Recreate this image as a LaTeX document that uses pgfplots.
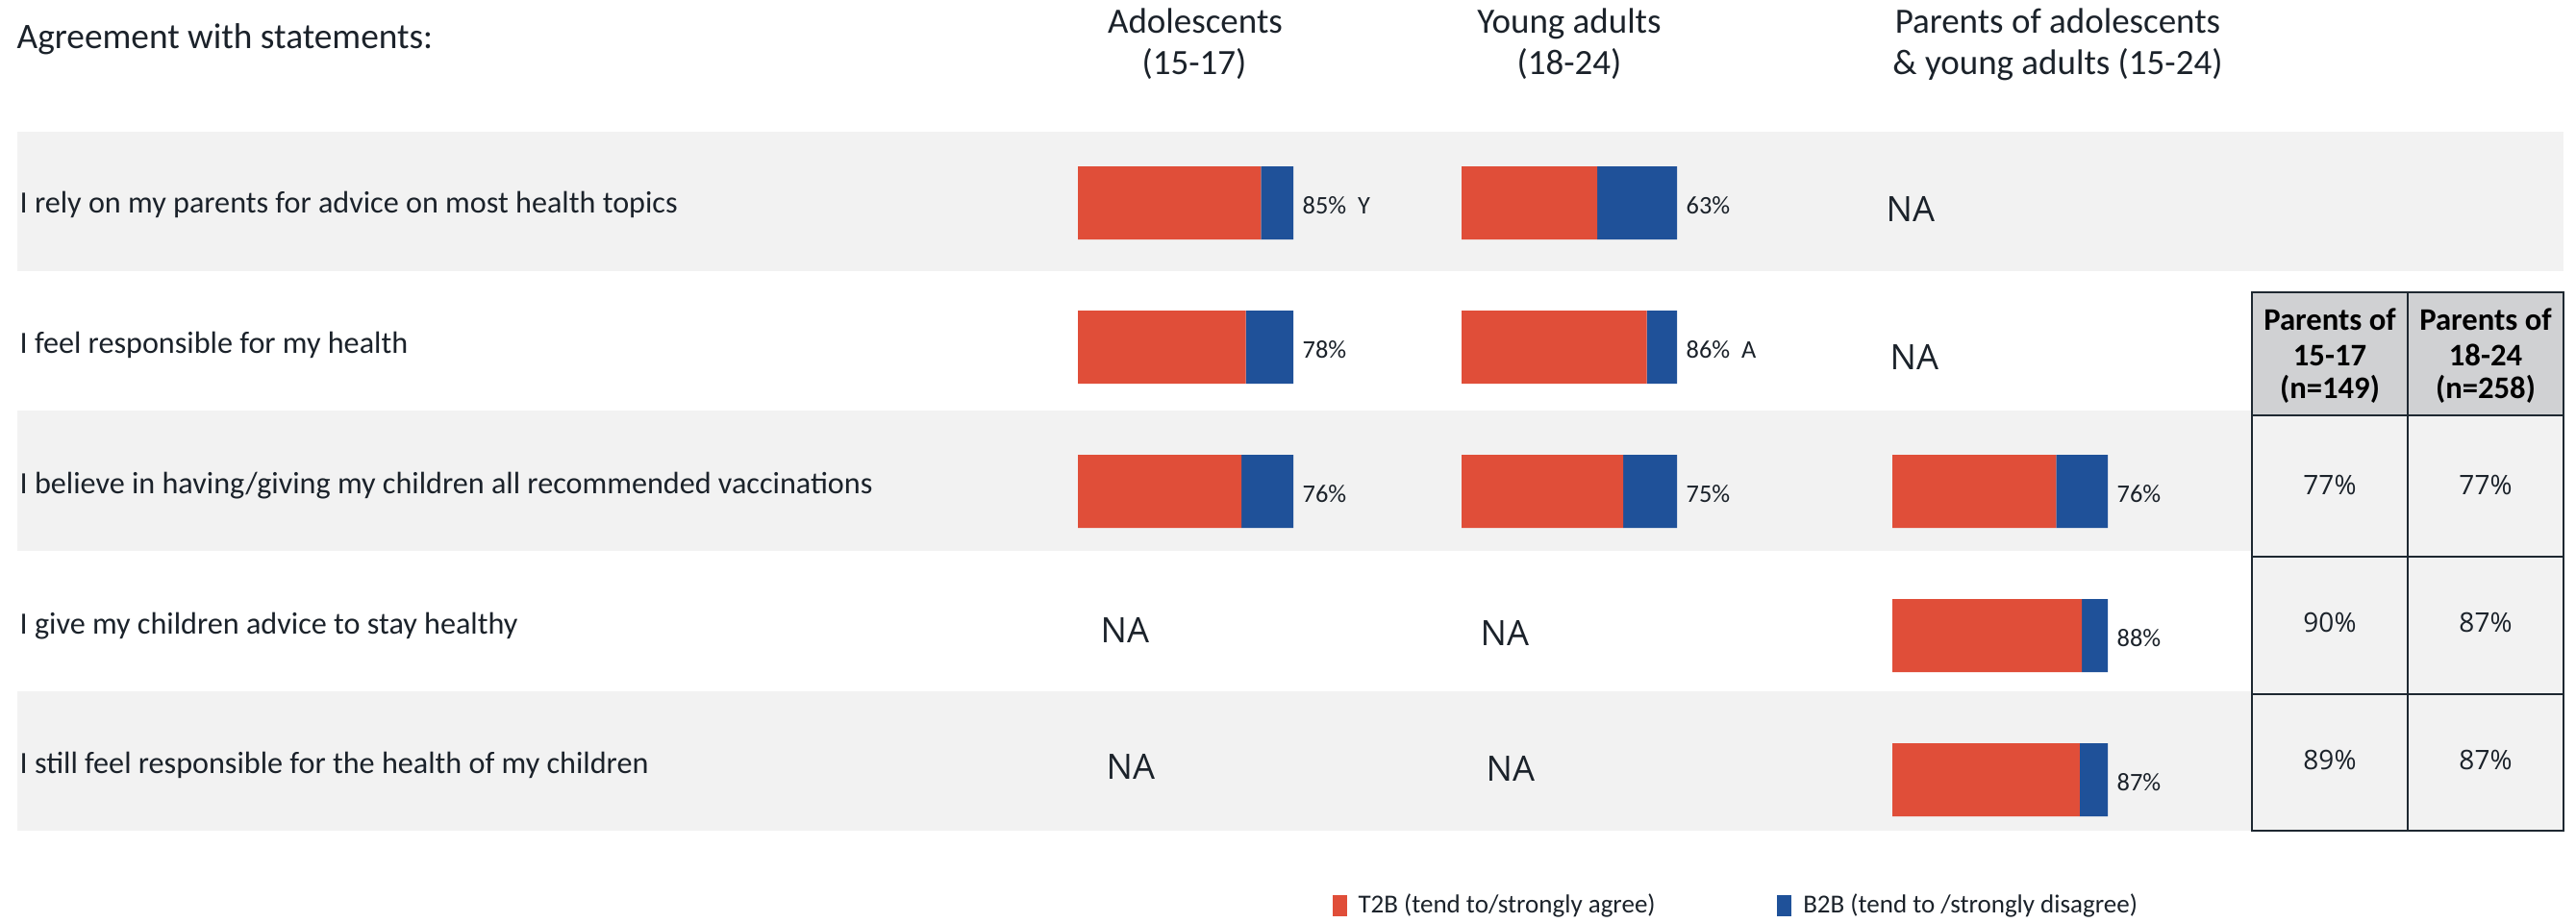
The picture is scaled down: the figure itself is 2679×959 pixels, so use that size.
\documentclass[border=0pt]{standalone}
\usepackage{pgfplots}
\pgfplotsset{compat=1.18}
\usepackage{fontspec}
\setmainfont{Carlito}
\newfontfamily\uifont{Open Sans}

\definecolor{t2b}{HTML}{E04E39}
\definecolor{b2b}{HTML}{1F5199}
\definecolor{band}{HTML}{F2F2F2}
\definecolor{headgray}{HTML}{D0D1D3}
\definecolor{ink}{HTML}{1B222A}
\definecolor{rule}{HTML}{1E2831}

% 1 layout unit = 0.3pt
\newcommand{\fs}[2]{\fontsize{#1}{#2}\selectfont}

\pgfplotsset{
  grpbar/.style={
    xbar stacked, scale only axis, hide axis, clip=false,
    width=67.2pt, height=225pt,
    xmin=0, xmax=100, ymin=0.5, ymax=5.5, y dir=reverse,
    bar width=22.8pt, anchor=north west,
  },
}
\tikzset{
  vallabel/.style={anchor=base west, inner sep=0pt, xshift=2.7pt, yshift=-3.3pt,
    font=\fs{7.9pt}{9pt}, text=ink},
}

\begin{document}
\begin{tikzpicture}
\begin{scope}[x=0.3pt, y=-0.3pt]
  \useasboundingbox (0,0) rectangle (2679,959);
  % alternating row bands
  \fill[band] (18,137) rectangle (2666,282);
  \fill[band] (18,427) rectangle (2342,573);
  \fill[band] (18,719) rectangle (2342,864);

  % title and column headers
  \node[anchor=base west, inner sep=0pt, text=ink, font=\fs{11.2pt}{13pt}] at (17,50) {Agreement with statements:};
  \begin{scope}[every node/.style={anchor=base, inner sep=0pt, text=ink, font=\fs{11.1pt}{13pt}}]
    \node at (1243,34) {Adolescents};
    \node at (1242,77) {(15-17)};
    \node at (1632,34) {Young adults};
    \node at (1632,77) {(18-24)};
    \node at (2140,34) {Parents of adolescents};
    \node at (2140,77) {\& young adults (15-24)};
  \end{scope}

  % statements
  \begin{scope}[every node/.style={anchor=base west, inner sep=0pt, text=ink, font=\fs{9.65pt}{11pt}}]
    \node at (20,221) {I rely on my parents for advice on most health topics};
    \node at (20,367) {I feel responsible for my health};
    \node at (20,513) {I believe in having/giving my children all recommended vaccinations};
    \node at (20,659) {I give my children advice to stay healthy};
    \node at (20,804) {I still feel responsible for the health of my children};
  \end{scope}

  % not asked
  \begin{scope}[every node/.style={anchor=base west, inner sep=0pt, text=ink, font=\uifont\fs{10.9pt}{12pt}}]
    \node at (1961,230) {NA};
    \node at (1965,384) {NA};
    \node at (1144,668) {NA};
    \node at (1539,671) {NA};
    \node at (1150,810) {NA};
    \node at (1545,812) {NA};
  \end{scope}

  % parents' table
  \fill[headgray] (2342,304) rectangle (2666,432);
  \fill[band] (2342,432) rectangle (2666,864);
  \draw[rule, line width=0.75pt] (2342,304) rectangle (2666,864)
    (2504,304) -- (2504,864)
    (2342,432) -- (2666,432)
    (2342,579) -- (2666,579)
    (2342,722) -- (2666,722);
  \begin{scope}[every node/.style={anchor=base, inner sep=0pt, text=black, font=\bfseries\fs{9.8pt}{11pt}}]
    \node at (2423,343) {Parents of};
    \node at (2423,380) {15-17};
    \node at (2423,414) {(n=149)};
    \node at (2585,343) {Parents of};
    \node at (2585,380) {18-24};
    \node at (2585,414) {(n=258)};
  \end{scope}
  \begin{scope}[every node/.style={anchor=base, inner sep=0pt, text=ink, font=\uifont\fs{8.4pt}{10pt}}]
    \node at (2423,514) {77\%};
    \node at (2585,514) {77\%};
    \node at (2423,657) {90\%};
    \node at (2585,657) {87\%};
    \node at (2423,800) {89\%};
    \node at (2585,800) {87\%};
  \end{scope}
\end{scope}

% Adolescents (15-17)
\begin{axis}[grpbar, at={(1121*0.3pt,-136*0.3pt)},
  legend columns=2,
  legend style={at={(axis description cs:1.178,-0.0747)}, anchor=west,
    draw=none, fill=none, inner sep=0pt, font=\fs{8.1pt}{9pt},
    text=ink,
    nodes={inner sep=0pt},
    /tikz/every odd column/.append style={column sep=3.6pt},
    /tikz/every even column/.append style={column sep=38pt}},
  legend image code/.code={\fill[#1] (0pt,-3.3pt) rectangle (4.5pt,3.3pt);},
]
  \addplot[fill=t2b, draw=none] coordinates {(85,1) (78,2) (76,3)};
  \addplot[fill=b2b, draw=none] coordinates {(15,1) (22,2) (24,3)};
  \legend{T2B (tend to/strongly agree), B2B (tend to /strongly disagree)}
  \node[vallabel] at (axis cs:100,1) {85\%\hspace{3.6pt}Y};
  \node[vallabel] at (axis cs:100,2) {78\%};
  \node[vallabel] at (axis cs:100,3) {76\%};
\end{axis}

% Young adults (18-24)
\begin{axis}[grpbar, at={(1520*0.3pt,-136*0.3pt)}]
  \addplot[fill=t2b, draw=none] coordinates {(63,1) (86,2) (75,3)};
  \addplot[fill=b2b, draw=none] coordinates {(37,1) (14,2) (25,3)};
  \node[vallabel] at (axis cs:100,1) {63\%};
  \node[vallabel] at (axis cs:100,2) {86\%\hspace{3.6pt}A};
  \node[vallabel] at (axis cs:100,3) {75\%};
\end{axis}

% Parents of adolescents & young adults (15-24)
\begin{axis}[grpbar, at={(1968*0.3pt,-136*0.3pt)}]
  \addplot[fill=t2b, draw=none] coordinates {(76,3) (88,4) (87,5)};
  \addplot[fill=b2b, draw=none] coordinates {(24,3) (12,4) (13,5)};
  \node[vallabel] at (axis cs:100,3) {76\%};
  \node[vallabel] at (axis cs:100,4) {88\%};
  \node[vallabel] at (axis cs:100,5) {87\%};
\end{axis}
\end{tikzpicture}
\end{document}
